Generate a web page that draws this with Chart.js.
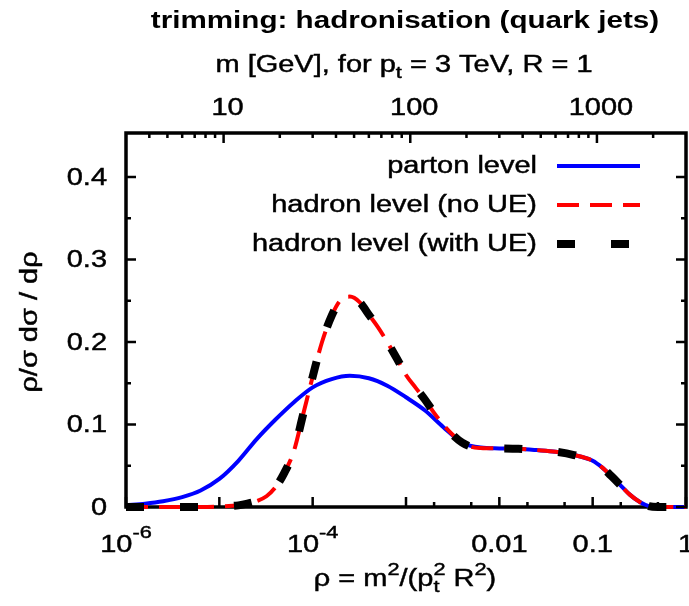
<!DOCTYPE html>
<html>
<head>
<meta charset="utf-8">
<script src="https://cdn.jsdelivr.net/npm/chart.js@4.4.1/dist/chart.umd.min.js"></script>
<style>
  html, body { margin: 0; background: #fff; }
  canvas { display: block; }
</style>
</head>
<body>
<canvas id="chart" width="689" height="606"></canvas>
<script>
// values (rho = m^2 / (pt^2 R^2))
const partonRho = [1e-6, 1.6e-6, 2.5e-6, 4e-6, 6.3e-6, 1e-5, 1.6e-5, 2.5e-5, 4e-5, 6.3e-5, 1e-4, 1.6e-4,
  2.5e-4, 4e-4, 6.3e-4, 1e-3, 1.6e-3, 2.5e-3, 4e-3, 6.3e-3, 0.01, 0.016, 0.025, 0.04, 0.063, 0.1, 0.126,
  0.16, 0.2, 0.25, 0.32, 0.4, 0.5, 1];
const partonLevel = [0.002, 0.004, 0.007, 0.012, 0.020, 0.034, 0.056, 0.082, 0.106, 0.127, 0.145, 0.155,
  0.159, 0.156, 0.147, 0.133, 0.117, 0.097, 0.078, 0.072, 0.071, 0.0705, 0.069, 0.067, 0.063, 0.056, 0.048,
  0.037, 0.026, 0.015, 0.006, 0.001, 0, 0];

const hadronRho = [1e-6, 6.3e-6, 1e-5, 1.6e-5, 2e-5, 2.5e-5, 3.2e-5, 4e-5, 5e-5, 6.3e-5, 7.9e-5, 1e-4,
  1.26e-4, 1.6e-4, 2e-4, 2.5e-4, 3.2e-4, 4e-4, 5e-4, 6.3e-4, 7.9e-4, 1e-3, 1.26e-3, 1.6e-3, 2e-3, 2.5e-3,
  3.2e-3, 4e-3, 5e-3, 6.3e-3, 0.01, 0.016, 0.025, 0.04, 0.063, 0.1, 0.126, 0.16, 0.2, 0.25, 0.32, 0.4, 0.5, 1];
const hadronNoUE = [0, 0, 0.0005, 0.002, 0.004, 0.007, 0.013, 0.024, 0.042, 0.068, 0.112, 0.158,
  0.200, 0.232, 0.251, 0.255, 0.248, 0.233, 0.218, 0.200, 0.181, 0.160, 0.145, 0.130, 0.114, 0.100,
  0.087, 0.078, 0.073, 0.0715, 0.071, 0.0705, 0.069, 0.067, 0.063, 0.056, 0.048, 0.037, 0.026, 0.015, 0.006,
  0.001, 0, 0];
const hadronUE = [0, 0, 0.0005, 0.002, 0.004, 0.007, 0.013, 0.024, 0.042, 0.068, 0.112, 0.158,
  0.200, 0.232, 0.251, 0.255, 0.248, 0.233, 0.218, 0.200, 0.181, 0.160, 0.145, 0.130, 0.114, 0.100,
  0.087, 0.078, 0.073, 0.0715, 0.071, 0.0705, 0.069, 0.067, 0.063, 0.056, 0.048, 0.037, 0.026, 0.015, 0.006,
  0.001, 0, 0];

// tick positions and labels
const yTicks = [0, 0.1, 0.2, 0.3, 0.4];
const yMinorTicks = [0.05, 0.15, 0.25, 0.35];
const rhoTicks = [1e-6, 1e-5, 1e-4, 1e-3, 0.01, 0.1, 1];
const rhoMinorTicks = [2e-3, 5e-3, 0.02, 0.05, 0.2, 0.5];
const rhoLabels = [
  { v: 1e-6, base: "10", exp: "-6" },
  { v: 1e-4, base: "10", exp: "-4" },
  { v: 0.01, base: "0.01" },
  { v: 0.1, base: "0.1" },
  { v: 1, base: "1" }
];
const massTicks = [10, 100, 1000];
const massMinorTicks = [4, 5, 6, 7, 8, 9, 20, 30, 40, 50, 60, 70, 80, 90, 200, 300, 400, 500, 600, 700, 800, 900, 2000];
const massLabels = ["10", "100", "1000"];

const seriesNames = ["parton level", "hadron level (no UE)", "hadron level (with UE)"];

const FONT = '"Liberation Sans", Arial, Helvetica, sans-serif';
const STRETCH = 1.26; // the original lettering is wide

function fontOf(size, bold) { return (bold ? "bold " : "") + size + "px " + FONT; }

// segs: {t} normal text, {sup}, {sub} or both stacked
function segWidth(ctx, s, size, bold) {
  if (s.t !== undefined) { ctx.font = fontOf(size, bold); return ctx.measureText(s.t).width; }
  ctx.font = fontOf(size * 0.75, bold);
  const a = s.sup ? ctx.measureText(s.sup).width : 0;
  const b = s.sub ? ctx.measureText(s.sub).width : 0;
  return Math.max(a, b);
}

function put(ctx, txt, x, y, heavy) {
  ctx.fillText(txt, x, y);
  if (heavy) ctx.strokeText(txt, x, y);
}

function drawRich(ctx, segs, x, y, size, o = {}) {
  const widths = segs.map(s => segWidth(ctx, s, size, o.bold));
  const total = widths.reduce((a, b) => a + b, 0);
  const supShift = o.supShift || 0.5;
  const heavy = !o.bold;
  ctx.save();
  ctx.translate(x, y);
  if (o.rot) ctx.rotate(o.rot);
  ctx.scale(o.stretch || STRETCH, 1);
  ctx.fillStyle = "#000";
  ctx.strokeStyle = "#000";
  ctx.lineWidth = 0.45;
  ctx.textAlign = "left";
  ctx.textBaseline = "alphabetic";
  let cur = o.align === "right" ? -total : o.align === "left" ? 0 : -total / 2;
  segs.forEach((s, i) => {
    if (s.t !== undefined) {
      ctx.font = fontOf(size, o.bold);
      put(ctx, s.t, cur, 0, heavy);
    } else {
      ctx.font = fontOf(size * 0.75, o.bold);
      if (s.sup) put(ctx, s.sup, cur, -size * supShift, heavy);
      if (s.sub) put(ctx, s.sub, cur, size * 0.28, heavy);
    }
    cur += widths[i];
  });
  ctx.restore();
}

const frame = {
  id: "frame",
  beforeDatasetsDraw(chart) {
    const { ctx, chartArea: a } = chart;
    ctx.save();
    ctx.strokeStyle = "#000";
    ctx.lineWidth = 3.5;
    ctx.strokeRect(a.left, a.top, a.right - a.left, a.bottom - a.top);
    ctx.restore();
  },
  afterDraw(chart) {
    const { ctx, chartArea: a } = chart;
    const sx = chart.scales.x, sm = chart.scales.mass, sy = chart.scales.y;
    ctx.save();
    ctx.strokeStyle = "#000";
    ctx.lineWidth = 2.5;
    ctx.beginPath();
    yTicks.forEach(v => {
      const p = sy.getPixelForValue(v);
      ctx.moveTo(a.left, p); ctx.lineTo(a.left + 10, p);
      ctx.moveTo(a.right, p); ctx.lineTo(a.right - 10, p);
    });
    yMinorTicks.forEach(v => {
      const p = sy.getPixelForValue(v);
      ctx.moveTo(a.left, p); ctx.lineTo(a.left + 5, p);
      ctx.moveTo(a.right, p); ctx.lineTo(a.right - 5, p);
    });
    rhoTicks.forEach(v => {
      const p = sx.getPixelForValue(v);
      ctx.moveTo(p, a.bottom); ctx.lineTo(p, a.bottom - 10);
    });
    rhoMinorTicks.forEach(v => {
      const p = sx.getPixelForValue(v);
      ctx.moveTo(p, a.bottom); ctx.lineTo(p, a.bottom - 5);
    });
    massTicks.forEach(v => {
      const p = sm.getPixelForValue(v);
      ctx.moveTo(p, a.top); ctx.lineTo(p, a.top + 10);
    });
    massMinorTicks.forEach(v => {
      const p = sm.getPixelForValue(v);
      ctx.moveTo(p, a.top); ctx.lineTo(p, a.top + 5);
    });
    ctx.stroke();
    ctx.restore();

    // tick labels
    yTicks.forEach(v => {
      drawRich(ctx, [{ t: String(v) }], a.left - 19, sy.getPixelForValue(v) + 8, 23, { align: "right" });
    });
    rhoLabels.forEach(l => {
      const segs = l.exp ? [{ t: l.base }, { sup: l.exp }] : [{ t: l.base }];
      drawRich(ctx, segs, sx.getPixelForValue(l.v), 552, 23, { supShift: 0.6 });
    });
    massTicks.forEach((v, i) => {
      drawRich(ctx, [{ t: massLabels[i] }], sm.getPixelForValue(v) + 4, 115, 23);
    });

    // titles
    drawRich(ctx, [{ t: "trimming: hadronisation (quark jets)" }], 405, 28, 23.5, { bold: true });
    drawRich(ctx, [{ t: "m [GeV], for p" }, { sub: "t" }, { t: " = 3 TeV, R = 1" }], 404, 72, 23);
    drawRich(ctx, [{ t: "ρ = m" }, { sup: "2" }, { t: "/(p" }, { sub: "t", sup: "2" }, { t: " R" }, { sup: "2" }, { t: ")" }],
      405, 586, 23);
    drawRich(ctx, [{ t: "ρ/σ dσ / dρ" }], 37, 322, 23, { rot: -Math.PI / 2 });

    // legend: right aligned text, line sample after it
    chart.data.datasets.forEach(ds => {
      const row = seriesNames.indexOf(ds.label);
      const yLine = 166 + row * 39;
      drawRich(ctx, [{ t: ds.label }], 537, yLine + 7, 23, { align: "right" });
      ctx.save();
      ctx.strokeStyle = ds.borderColor;
      ctx.lineWidth = ds.borderWidth;
      ctx.setLineDash(ds.borderDash || []);
      ctx.beginPath();
      ctx.moveTo(557, yLine);
      ctx.lineTo(640, yLine);
      ctx.stroke();
      ctx.restore();
    });
  }
};

const toPoints = (xs, ys) => xs.map((x, i) => ({ x: x, y: ys[i] }));

new Chart(document.getElementById("chart"), {
  type: "line",
  data: {
    datasets: [
      {
        label: seriesNames[0], data: toPoints(partonRho, partonLevel),
        borderColor: "#0000ff", borderWidth: 4, order: 3
      },
      {
        label: seriesNames[1], data: toPoints(hadronRho, hadronNoUE),
        borderColor: "#ff0000", borderWidth: 4, borderDash: [22, 11], order: 2
      },
      {
        label: seriesNames[2], data: toPoints(hadronRho, hadronUE),
        borderColor: "#000000", borderWidth: 8, borderDash: [18, 36], order: 1
      }
    ]
  },
  options: {
    responsive: false,
    animation: false,
    events: [],
    layout: { padding: { left: 0, right: 3, top: 0, bottom: 0 } },
    elements: {
      point: { radius: 0 },
      line: { cubicInterpolationMode: "monotone", fill: false, borderCapStyle: "butt" }
    },
    datasets: { line: { clip: false } },
    plugins: { legend: { display: false }, tooltip: { enabled: false }, title: { display: false } },
    scales: {
      x: {
        type: "logarithmic", position: "bottom", min: 1e-6, max: 1,
        ticks: { display: false }, grid: { display: false }, border: { display: false },
        afterFit: s => { s.height = 99; }
      },
      mass: {
        type: "logarithmic", position: "top", min: 3, max: 3000,
        ticks: { display: false }, grid: { display: false }, border: { display: false },
        afterFit: s => { s.height = 133; }
      },
      y: {
        type: "linear", min: 0, max: 0.4533,
        ticks: { display: false }, grid: { display: false }, border: { display: false },
        afterFit: s => { s.width = 126; }
      }
    }
  },
  plugins: [frame]
});
</script>
</body>
</html>
